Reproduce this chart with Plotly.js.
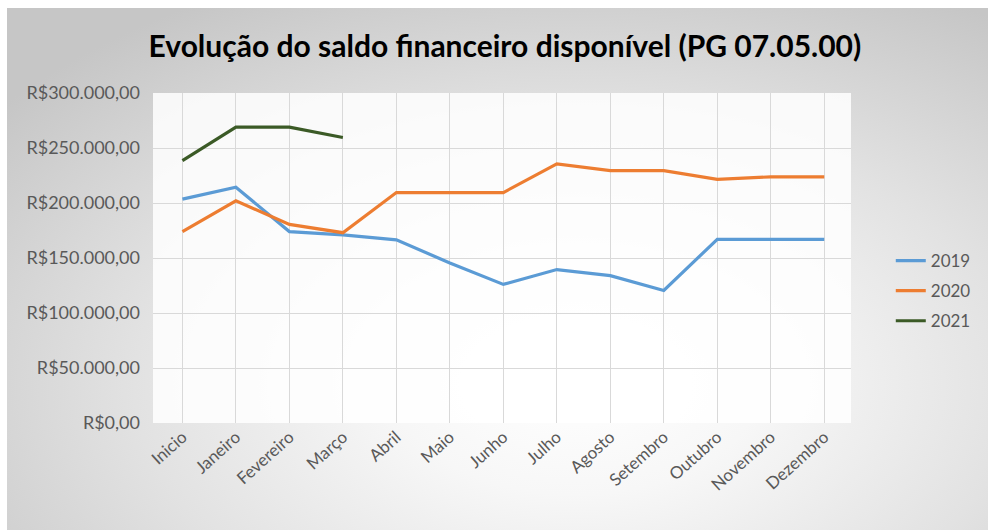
<!DOCTYPE html>
<html>
<head>
<meta charset="utf-8">
<script src="https://cdn.plot.ly/plotly-3.0.1.min.js"></script>
<style>
  html, body { margin: 0; padding: 0; background: #ffffff; }
  #frame {
    position: absolute; left: 7px; top: 8px; width: 981px; height: 522px;
    background: radial-gradient(ellipse 75% 85% at 58% 72%, #ffffff 0%, #f7f7f7 25%, #e2e2e2 60%, #c6c6c6 100%);
  }
  #chart { position: absolute; left: 0; top: 0; width: 988px; height: 530px; }
</style>
</head>
<body>
<div id="frame"></div>
<div id="chart"></div>
<script>
const categories = ["Inicio", "Janeiro", "Fevereiro", "Março", "Abril", "Maio", "Junho", "Julho", "Agosto", "Setembro", "Outubro", "Novembro", "Dezembro"];
const values2019 = [203500, 214300, 174000, 171000, 166500, 145500, 126000, 139500, 134000, 120500, 167000, 167000, 167000];
const values2020 = [174000, 202000, 180500, 173000, 209500, 209500, 209500, 235500, 229500, 229500, 221500, 223800, 223700];
const values2021 = [238500, 269000, 269000, 259500];
const seriesNames = ["2019", "2020", "2021"];
const yTickVals = [0, 50000, 100000, 150000, 200000, 250000, 300000];
const yTickLabels = ["R$0,00", "R$50.000,00", "R$100.000,00", "R$150.000,00", "R$200.000,00", "R$250.000,00", "R$300.000,00"];

const colors = ["#5B9BD5", "#ED7D31", "#3B5A26"];
const data = [values2019, values2020, values2021].map((vals, i) => ({
  x: categories.slice(0, vals.length),
  y: vals,
  name: seriesNames[i],
  legendgroup: seriesNames[i],
  type: "scatter",
  mode: "lines",
  line: { color: colors[i], width: 3.2 },
  hoverinfo: "skip"
}));

const layout = {
  width: 988, height: 530,
  paper_bgcolor: "rgba(0,0,0,0)",
  plot_bgcolor: "rgba(255,255,255,0.85)",
  margin: { l: 153, r: 135, t: 93, b: 107 },
  title: {
    text: "<b>Evolução do saldo financeiro disponível (PG 07.05.00)</b>",
    font: { family: "Lato, 'Open Sans', sans-serif", size: 30, color: "#000000" },
    x: 0.511, xanchor: "center", y: 0.913, yanchor: "middle"
  },
  font: { family: "Lato, 'Open Sans', sans-serif", color: "#595959" },
  xaxis: {
    type: "category",
    categoryorder: "array", categoryarray: categories,
    range: [-0.55, 12.5],
    showgrid: true, gridcolor: "#d9d9d9", gridwidth: 1,
    zeroline: false, showline: false, ticks: "",
    tickangle: -42,
    tickfont: { size: 17, color: "#595959" },
    fixedrange: true
  },
  yaxis: {
    range: [0, 300000],
    tickvals: yTickVals, ticktext: yTickLabels,
    showgrid: true, gridcolor: "#d9d9d9", gridwidth: 1,
    zeroline: false, showline: false, ticks: "",
    tickfont: { size: 18, color: "#595959" },
    ticklabelstandoff: 12,
    fixedrange: true
  },
  showlegend: true,
  legend: {
    x: 1.057, xanchor: "left", y: 0.40, yanchor: "middle",
    font: { size: 17, color: "#595959" },
    bgcolor: "rgba(0,0,0,0)", traceorder: "grouped", tracegroupgap: 5
  }
};

Plotly.newPlot("chart", data, layout, { displayModeBar: false, staticPlot: true });
</script>
</body>
</html>
